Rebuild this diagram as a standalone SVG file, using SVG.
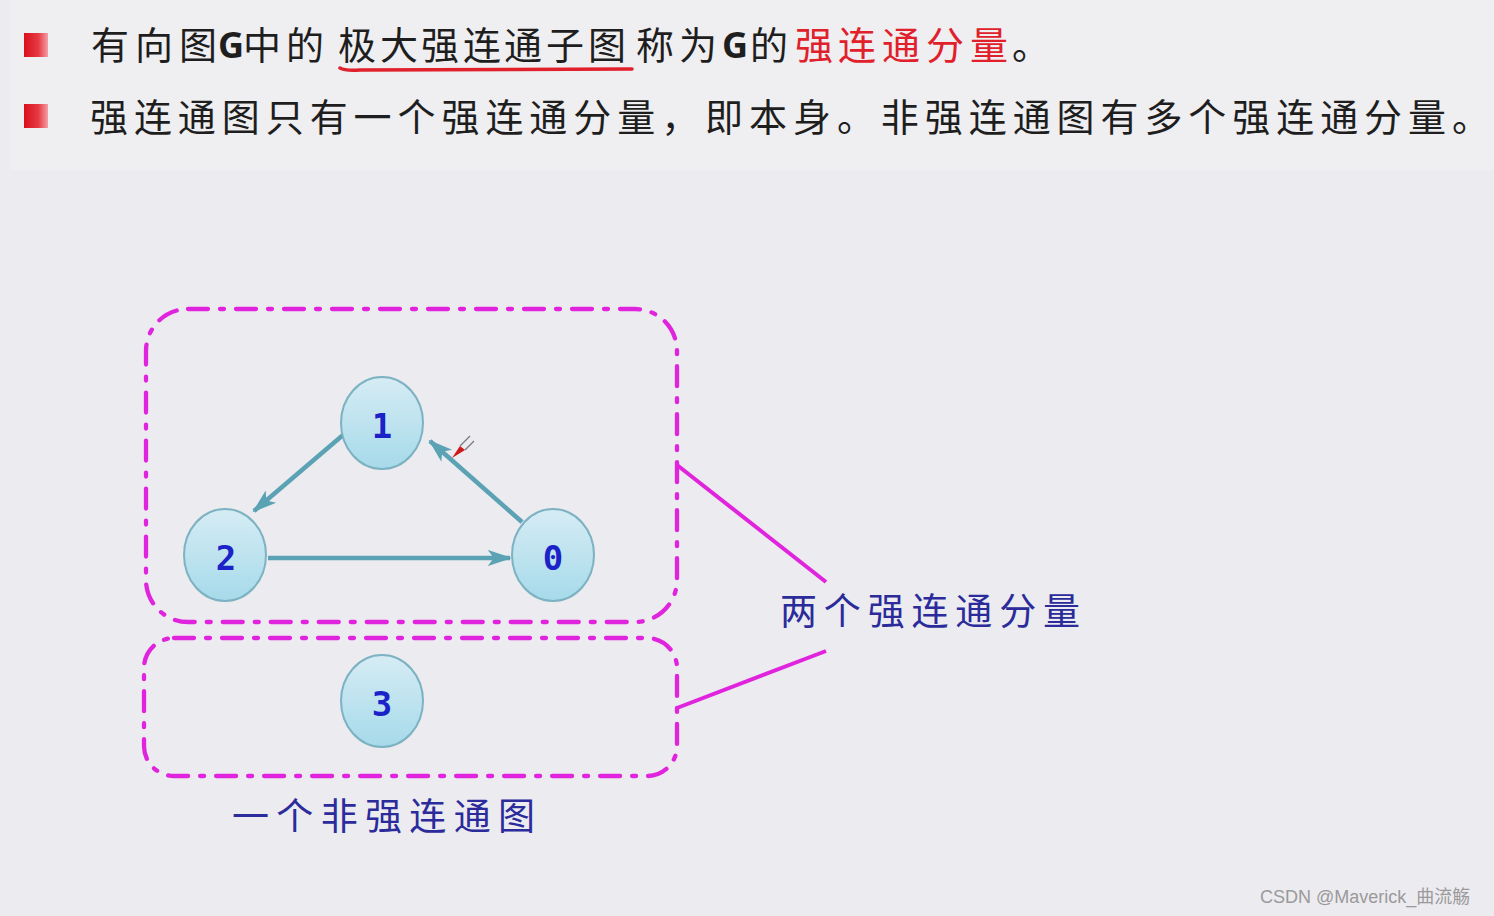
<svg xmlns="http://www.w3.org/2000/svg" width="1494" height="916" viewBox="0 0 1494 916">
<defs>
<linearGradient id="bullet" x1="0" y1="0" x2="1" y2="0">
<stop offset="0" stop-color="#d8101c"/><stop offset="0.6" stop-color="#e63a44"/><stop offset="1" stop-color="#f3a0a6"/>
</linearGradient>
<linearGradient id="nodeFill" x1="0" y1="0" x2="0" y2="1">
<stop offset="0" stop-color="#d6ecf4"/><stop offset="1" stop-color="#a6daea"/>
</linearGradient>
<marker id="arr" viewBox="0 0 12 10" refX="11" refY="5" markerWidth="5.5" markerHeight="4.5" orient="auto" markerUnits="strokeWidth">
<path d="M0,1 L12,5 L0,9 L3,5 Z" fill="#5aa2b4"/>
</marker>
<style>
.hd{font-family:"Noto Sans CJK SC","Noto Sans",sans-serif;font-size:38px;fill:#1e1e1e;}
.g{font-family:"Open Sans","Liberation Sans",sans-serif;font-weight:bold;font-size:36px;fill:#1e1e1e;}
.red{fill:#e0202a;}
.lbl{font-family:"Noto Sans CJK SC",sans-serif;font-size:37px;fill:#2b2b9c;}
.node ellipse{fill:url(#nodeFill);stroke:#7cb2c2;stroke-width:2;}
.node text{font-family:"DejaVu Sans Mono","Liberation Mono",monospace;font-weight:bold;font-size:34px;fill:#1a22c8;text-anchor:middle;}
.edge{stroke:#5aa2b4;stroke-width:4.5;fill:none;marker-end:url(#arr);}
.box{fill:none;stroke:#e024de;stroke-width:4.3;stroke-dasharray:20 12 4 12;stroke-linecap:round;}
.lead{stroke:#e024de;stroke-width:4;fill:none;}
</style>
</defs>
<rect width="1494" height="916" fill="#ecebef"/>
<rect x="10" y="0" width="1484" height="170" fill="#efeef1"/>

<g id="header">
<rect x="24" y="33" width="24" height="24" fill="url(#bullet)"/>
<rect x="24" y="104" width="24" height="24" fill="url(#bullet)"/>
<text class="hd" x="91 135 179" y="59">有向图</text>
<text class="g" x="218" y="58">G</text>
<text class="hd" x="243 286 338 380 421 463 504 546 588 636 679" y="59">中的极大强连通子图称为</text>
<text class="g" x="722" y="58">G</text>
<text class="hd" x="750" y="59">的</text>
<text class="hd red" x="795 838 882 926 970" y="59">强连通分量</text>
<text class="hd" x="1012" y="59">。</text>
<path d="M340,68 Q345,71 360,70 L632,69" stroke="#e0202a" stroke-width="3.5" fill="none" stroke-linecap="round"/>
<text class="hd" x="90" y="131" textLength="1400" lengthAdjust="spacing">强连通图只有一个强连通分量，即本身。非强连通图有多个强连通分量。</text>
</g>

<g id="boxes">
<rect class="box" x="146" y="309" width="531" height="313" rx="42"/>
<rect class="box" x="144" y="638" width="533" height="138" rx="30"/>
</g>

<g id="connectors">
<line class="edge" x1="343" y1="435" x2="254" y2="511"/>
<line class="edge" x1="522" y1="522" x2="430" y2="441"/>
<line class="edge" x1="268" y1="558" x2="510" y2="558"/>
<line class="lead" x1="677" y1="465" x2="826" y2="582"/>
<line class="lead" x1="677" y1="708" x2="826" y2="651"/>
</g>

<g id="node1" class="node"><ellipse cx="382" cy="423" rx="41" ry="46"/><text x="382" y="438">1</text></g>
<g id="node2" class="node"><ellipse cx="225" cy="555" rx="41" ry="46"/><text x="226" y="570">2</text></g>
<g id="node0" class="node"><ellipse cx="553" cy="555" rx="41" ry="46"/><text x="553" y="570">0</text></g>
<g id="node3" class="node"><ellipse cx="382" cy="701" rx="41" ry="46"/><text x="382" y="716">3</text></g>

<g id="cursor">
<path d="M452,458 L460,446 L465,450 Z" fill="#d01818"/>
<path d="M460,446 L470,436 M465,450 L474,441" stroke="#777" stroke-width="1.2" fill="none"/>
</g>

<text class="lbl" x="780" y="625" textLength="300" lengthAdjust="spacing">两个强连通分量</text>
<text class="lbl" x="232" y="830" textLength="303" lengthAdjust="spacing">一个非强连通图</text>

<text x="1260" y="903" font-family="Liberation Sans,Noto Sans CJK SC,sans-serif" font-size="18" fill="#9a9a9a">CSDN @Maverick_曲流觞</text>
</svg>
